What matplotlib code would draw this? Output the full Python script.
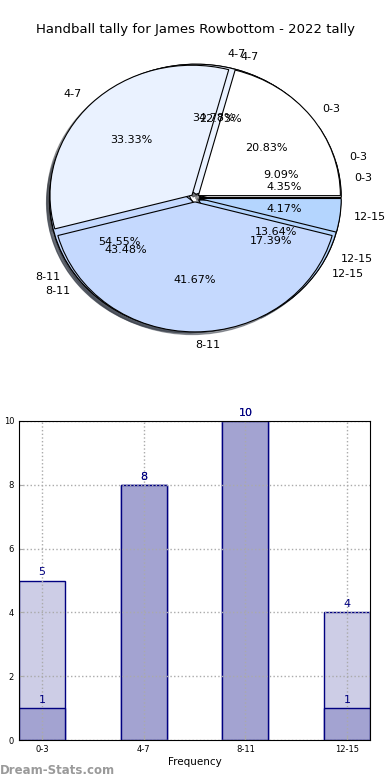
import numpy as np
import matplotlib
matplotlib.use('Agg')
import matplotlib.pyplot as plt

# tally data
categories = ['0-3', '4-7', '8-11', '12-15']
tally_2022 = [5, 8, 10, 1]
tally_prev = [1, 8, 10, 4]
tally_old = [2, 5, 12, 3]

pie_colors = ['#ffffff', '#eaf2ff', '#c5d9fe', '#b4d5fe']

fig = plt.figure(figsize=(3.9, 7.8), dpi=100)
fig.text(0.5, 1 - 30 / 780, 'Handball tally for James Rowbottom - 2022 tally',
         ha='center', va='center', fontsize=9.5)

# pies drawn on top of each other, newest last
ax1 = fig.add_axes([17.5 / 390, 1 - 360.5 / 780, 355 / 390, 325 / 780])
for data in [tally_old, tally_prev, tally_2022]:
    ax1.pie(data, labels=categories, colors=pie_colors, autopct='%1.2f%%',
            startangle=0, explode=[0.03] * len(data),
            shadow={'ox': -0.015, 'oy': -0.015},
            wedgeprops={'edgecolor': 'black', 'linewidth': 0.8},
            textprops={'fontsize': 8})
ax1.set_aspect('auto')
ax1.set_xlim(-1.25, 1.25)
ax1.set_ylim(-1.25, 1.25)

# bar chart
ax2 = fig.add_axes([19 / 390, 40 / 780, 351 / 390, 319 / 780])
x = np.arange(len(categories))
hi = np.maximum(tally_2022, tally_prev)
lo = np.minimum(tally_2022, tally_prev)
ax2.bar(x, hi, width=0.45, color='#cdcde6', edgecolor='#000080', linewidth=1)
ax2.bar(x, lo, width=0.45, color='#a3a3d1', edgecolor='#000080', linewidth=1)
for xi, a, b in zip(x, tally_2022, tally_prev):
    for v in (a, b):
        ax2.text(xi, v + 0.1, str(v), ha='center', va='bottom',
                 color='#000080', fontsize=8)

ax2.set_xlim(-0.225, 3.225)
ax2.set_ylim(0, 10)
ax2.set_xticks(x)
ax2.set_xticklabels(categories)
ax2.set_yticks([0, 2, 4, 6, 8, 10])
ax2.tick_params(labelsize=6, length=3, direction='in', color='#aaaaaa')
ax2.grid(True, linestyle=':', color='#aaaaaa', linewidth=1)
ax2.set_axisbelow(False)
for sp in ax2.spines.values():
    sp.set_zorder(3)
ax2.set_xlabel('Frequency', fontsize=7.5, labelpad=2)
ax2.set_ylabel('Occurrences', fontsize=7.5)

fig.text(0.0, 9 / 780, 'Dream-Stats.com', color='#9a9a9a', fontsize=8.5,
         fontweight='bold', ha='left', va='center')

fig.savefig('out.png', dpi=100)
